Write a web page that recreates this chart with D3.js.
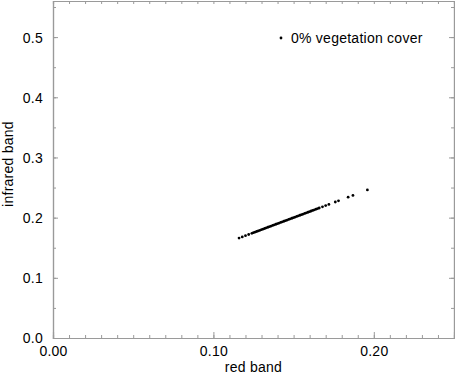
<!DOCTYPE html>
<html>
<head>
<meta charset="utf-8">
<script src="https://cdn.jsdelivr.net/npm/d3@7"></script>
<style>
  body { margin: 0; background: #fff; }
  svg text { font-family: "Liberation Sans", Arial, sans-serif; fill: #000; letter-spacing: 0.25px; }
</style>
</head>
<body>
<div id="chart"></div>
<script>
// 0% vegetation cover: red band vs infrared band reflectance
var redBand = [0.116, 0.118, 0.120, 0.122, 0.124, 0.125, 0.126, 0.127, 0.128, 0.129,
               0.130, 0.131, 0.132, 0.133, 0.134, 0.135, 0.136, 0.137, 0.138, 0.139,
               0.140, 0.141, 0.142, 0.143, 0.144, 0.145, 0.146, 0.147, 0.148, 0.149,
               0.150, 0.151, 0.152, 0.153, 0.154, 0.155, 0.156, 0.157, 0.158, 0.159,
               0.160, 0.161, 0.162, 0.163, 0.164, 0.165, 0.166, 0.168, 0.170, 0.172,
               0.176, 0.178, 0.184, 0.187, 0.196];
var infraredBand = [0.166, 0.168, 0.170, 0.172, 0.174, 0.175, 0.176, 0.177, 0.178, 0.179,
                    0.180, 0.181, 0.182, 0.183, 0.184, 0.185, 0.186, 0.187, 0.188, 0.189,
                    0.190, 0.191, 0.192, 0.193, 0.194, 0.195, 0.196, 0.197, 0.198, 0.199,
                    0.200, 0.201, 0.202, 0.203, 0.204, 0.205, 0.206, 0.207, 0.208, 0.209,
                    0.210, 0.211, 0.212, 0.213, 0.214, 0.215, 0.216, 0.218, 0.220, 0.222,
                    0.226, 0.228, 0.234, 0.237, 0.246];
var seriesName = "0% vegetation cover";
var xMajor = [0.00, 0.10, 0.20];
var yMajor = [0.0, 0.1, 0.2, 0.3, 0.4, 0.5];

var width = 455, height = 376;
var margin = {top: 1, right: 1, bottom: 38, left: 53};
var axisColor = "#9a9a9a";
var fontSize = 14;

var svg = d3.select("#chart").append("svg")
    .attr("width", width)
    .attr("height", height);

var x = d3.scaleLinear().domain([0, 0.25]).range([margin.left, width - margin.right]);
var y = d3.scaleLinear().domain([0, 0.56]).range([height - margin.bottom, margin.top]);

var xMinor = d3.range(0, 0.2501, 0.01);
var yMinor = d3.range(0, 0.5601, 0.05);

function styleAxis(g) {
  g.selectAll("path").attr("stroke", axisColor).attr("stroke-width", 1.2);
  g.selectAll("line").attr("stroke", axisColor);
  g.selectAll("text").attr("font-size", fontSize).attr("fill", "#000");
}

// minor ticks (all four sides, pointing inward)
svg.append("g")
    .attr("transform", "translate(0," + y.range()[0] + ")")
    .call(d3.axisTop(x).tickValues(xMinor).tickSize(3).tickFormat(""))
    .call(styleAxis);
svg.append("g")
    .attr("transform", "translate(0," + y.range()[1] + ")")
    .call(d3.axisBottom(x).tickValues(xMinor).tickSize(3).tickFormat(""))
    .call(styleAxis);
svg.append("g")
    .attr("transform", "translate(" + x.range()[0] + ",0)")
    .call(d3.axisRight(y).tickValues(yMinor).tickSize(3).tickFormat(""))
    .call(styleAxis);
svg.append("g")
    .attr("transform", "translate(" + x.range()[1] + ",0)")
    .call(d3.axisLeft(y).tickValues(yMinor).tickSize(3).tickFormat(""))
    .call(styleAxis);

// major ticks with labels
var xAxis = svg.append("g")
    .attr("transform", "translate(0," + y.range()[0] + ")")
    .call(d3.axisTop(x).tickValues(xMajor).tickSize(6).tickFormat(d3.format(".2f")))
    .call(styleAxis);
xAxis.selectAll("text").attr("dy", null).attr("y", 18).attr("text-anchor", "middle");

var yAxis = svg.append("g")
    .attr("transform", "translate(" + x.range()[0] + ",0)")
    .call(d3.axisRight(y).tickValues(yMajor).tickSize(5).tickFormat(d3.format(".1f")))
    .call(styleAxis);
yAxis.selectAll("text").attr("x", -10).attr("text-anchor", "end").attr("dy", "0.35em");

svg.append("g")
    .attr("transform", "translate(" + x.range()[1] + ",0)")
    .call(d3.axisLeft(y).tickValues(yMajor).tickSize(5).tickFormat(""))
    .call(styleAxis);

// axis titles
svg.append("text")
    .attr("x", (x.range()[0] + x.range()[1]) / 2)
    .attr("y", 372)
    .attr("text-anchor", "middle")
    .attr("font-size", fontSize)
    .text("red band");

svg.append("text")
    .attr("transform", "translate(13,164) rotate(-90)")
    .attr("text-anchor", "middle")
    .attr("font-size", fontSize)
    .text("infrared band");

// points
var points = redBand.map(function(d, i) { return {x: d, y: infraredBand[i]}; });
svg.append("g").selectAll("circle")
    .data(points)
  .enter().append("circle")
    .attr("cx", function(d) { return x(d.x); })
    .attr("cy", function(d) { return y(d.y); })
    .attr("r", 1.4)
    .attr("fill", "#000");

// legend
var legend = svg.append("g").attr("transform", "translate(281,38)");
legend.append("circle").attr("r", 1.4).attr("fill", "#000");
legend.append("text")
    .attr("x", 10)
    .attr("dy", "0.35em")
    .attr("font-size", fontSize)
    .text(seriesName);
</script>
</body>
</html>
